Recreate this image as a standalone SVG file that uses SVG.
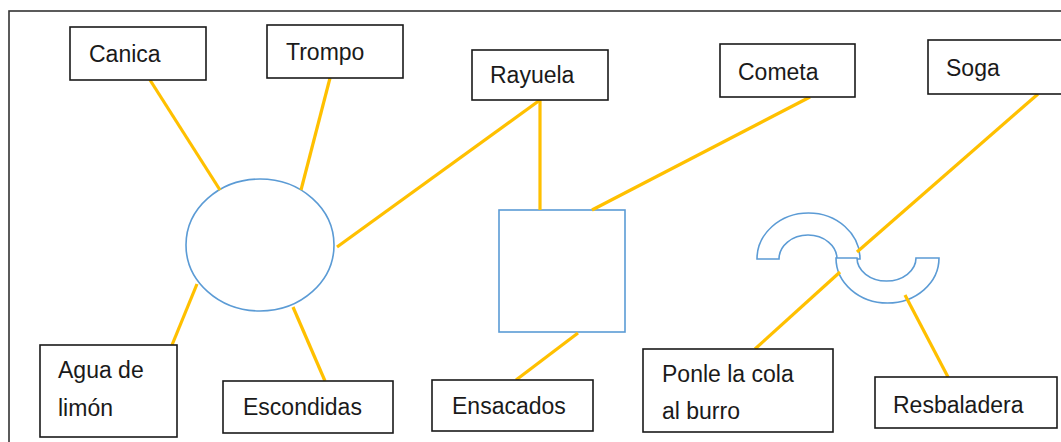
<svg xmlns="http://www.w3.org/2000/svg" width="1061" height="442" viewBox="0 0 1061 442">
<style>
.box{fill:#fff;stroke:#1a1a1a;stroke-width:1.6}
.shape{fill:#fff;stroke:#5B9BD5;stroke-width:1.6}
.lbl{font-family:"Liberation Sans",Arial,sans-serif;font-size:23px;fill:#1a1a1a}
.con line{stroke:#FFC000;stroke-width:3.2;stroke-linecap:butt}
</style>
<rect x="0" y="0" width="1061" height="442" fill="#fff"/>
<rect x="9" y="11" width="1070" height="450" fill="none" stroke="#333" stroke-width="1.6"/>

<g id="shapes">
  <ellipse id="circle" class="shape" cx="260" cy="245" rx="74" ry="66"/>
  <rect id="square" class="shape" x="499" y="210" width="126" height="122"/>
  <path id="arc-top" class="shape" d="M757,259 A51.5,46 0 0 1 860,259 L837,259 A29,24 0 0 0 779,259 Z"/>
  <path id="arc-bottom" class="shape" d="M836,258 A51.5,45 0 0 0 939,258 L916,258 A29.5,23 0 0 1 857,258 Z"/>
</g>

<g id="connectors" class="con">
  <line x1="150" y1="80" x2="220" y2="190"/>
  <line x1="330" y1="78" x2="301" y2="190"/>
  <line x1="540" y1="100" x2="337" y2="247"/>
  <line x1="540" y1="100" x2="540" y2="210"/>
  <line x1="810" y1="97" x2="592" y2="210"/>
  <line x1="1038" y1="94" x2="857" y2="252"/>
  <line x1="172" y1="345" x2="197" y2="284"/>
  <line x1="325" y1="381" x2="293" y2="307"/>
  <line x1="578" y1="333" x2="516" y2="380"/>
  <line x1="755" y1="349" x2="840" y2="272"/>
  <line x1="948" y1="377" x2="905" y2="295"/>
</g>

<g id="canica"><rect class="box" x="70" y="27" width="136" height="53"/><text class="lbl" x="89" y="62">Canica</text></g>
<g id="trompo"><rect class="box" x="267" y="25" width="136" height="53"/><text class="lbl" x="286" y="60">Trompo</text></g>
<g id="rayuela"><rect class="box" x="472" y="50" width="136" height="50"/><text class="lbl" x="490" y="83">Rayuela</text></g>
<g id="cometa"><rect class="box" x="720" y="44" width="135" height="53"/><text class="lbl" x="738" y="80">Cometa</text></g>
<g id="soga"><rect class="box" x="928" y="40" width="150" height="54"/><text class="lbl" x="946" y="76">Soga</text></g>
<g id="agua"><rect class="box" x="40" y="345" width="137" height="92"/><text class="lbl" x="58" y="378">Agua de</text><text class="lbl" x="58" y="416">limón</text></g>
<g id="escondidas"><rect class="box" x="223" y="381" width="170" height="52"/><text class="lbl" x="243" y="415">Escondidas</text></g>
<g id="ensacados"><rect class="box" x="432" y="380" width="161" height="51"/><text class="lbl" x="452" y="414">Ensacados</text></g>
<g id="ponle"><rect class="box" x="643" y="349" width="190" height="83"/><text class="lbl" x="662" y="382">Ponle la cola</text><text class="lbl" x="662" y="419">al burro</text></g>
<g id="resbaladera"><rect class="box" x="875" y="377" width="182" height="51"/><text class="lbl" x="893" y="413">Resbaladera</text></g>
</svg>
